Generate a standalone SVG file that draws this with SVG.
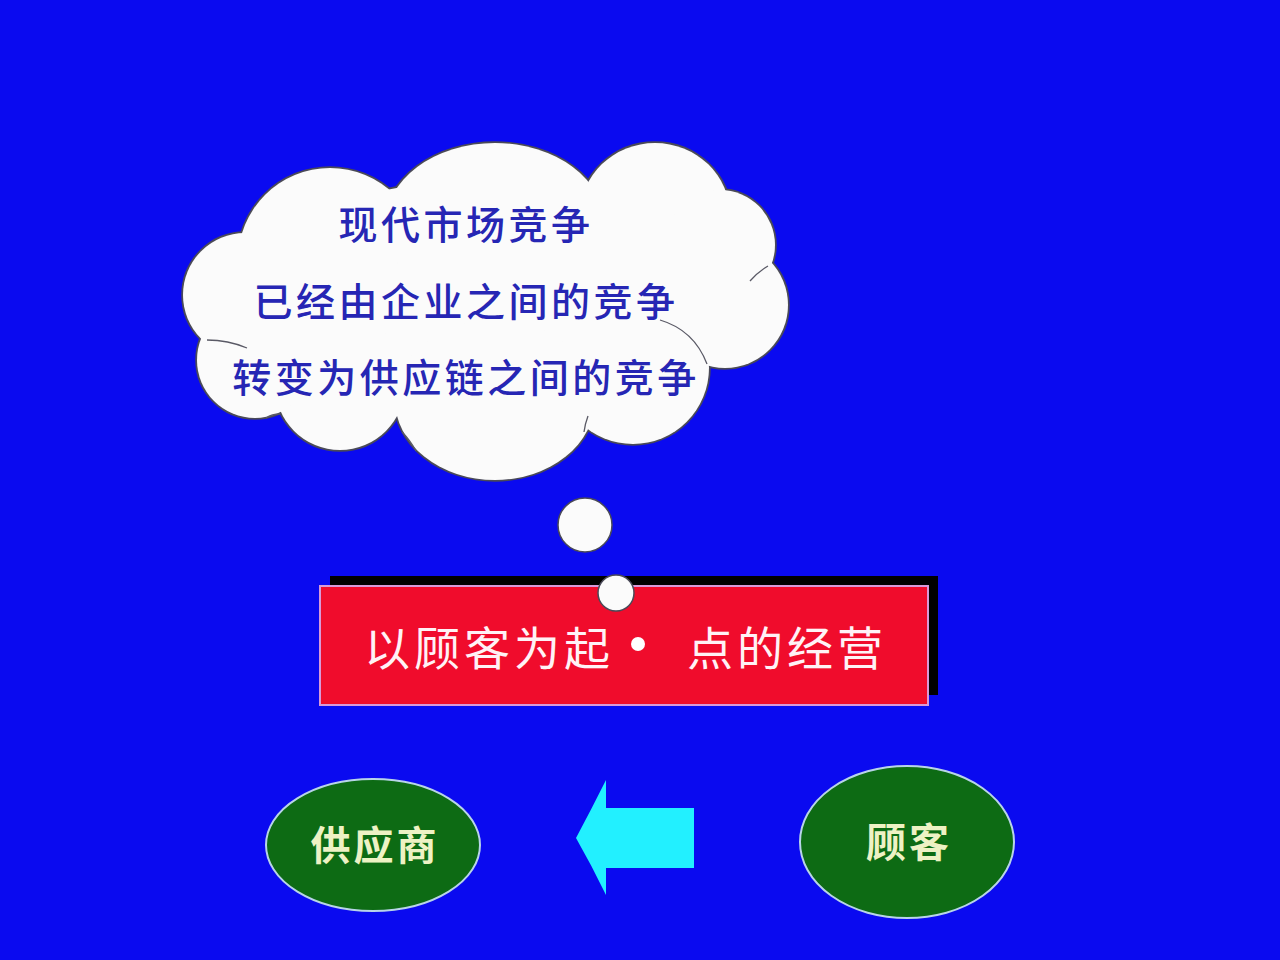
<svg xmlns="http://www.w3.org/2000/svg" xmlns:xlink="http://www.w3.org/1999/xlink" width="1280" height="960" viewBox="0 0 1280 960">
  <defs>
    <style>
      .cloudtext { font-family: "Noto Sans CJK SC", "Noto Sans", sans-serif; font-size: 39px; font-weight: 500; fill: #2626b4; letter-spacing: 3.5px; text-anchor: middle; }
      .bannertext { font-family: "Noto Sans CJK SC", "Noto Sans", sans-serif; font-size: 46px; font-weight: 400; fill: #fff2f6; letter-spacing: 4px; }
      .nodetext { font-family: "Noto Sans CJK SC", "Noto Sans", sans-serif; font-size: 40px; font-weight: 700; fill: #eef2c4; letter-spacing: 3px; text-anchor: middle; }
      .bubble { fill: #fbfbfb; stroke: #4a4a58; stroke-width: 1.5; }
      .inner { fill: none; stroke: #5a5a66; stroke-width: 1.3; }
      .node { fill: #0d6b14; stroke: #b8d4e8; stroke-width: 2; }
    </style>
    <g id="puffs">
      <ellipse cx="480" cy="300" rx="235" ry="120"/>
      <circle cx="330" cy="260" r="92"/>
      <ellipse cx="495" cy="225" rx="110" ry="82"/>
      <ellipse cx="655" cy="215" rx="75" ry="72"/>
      <circle cx="720" cy="245" r="55"/>
      <circle cx="725" cy="305" r="63"/>
      <circle cx="633" cy="368" r="76"/>
      <ellipse cx="495" cy="400" rx="100" ry="80"/>
      <circle cx="340" cy="385" r="65"/>
      <circle cx="255" cy="360" r="58"/>
      <circle cx="245" cy="295" r="62"/>
    </g>
  </defs>

  <rect x="0" y="0" width="1280" height="960" fill="#0a0af0"/>

  <g id="cloud">
    <use xlink:href="#puffs" fill="#4a4a58" stroke="#4a4a58" stroke-width="3.5"/>
    <use xlink:href="#puffs" fill="#fbfbfb" stroke="none"/>
    <path class="inner" d="M207,340 Q228,340 247,348"/>
    <path class="inner" d="M266,418 Q272,414 280,414"/>
    <path class="inner" d="M402,432 Q410,440 416,451"/>
    <path class="inner" d="M750,281 Q758,272 768,266"/>
    <path class="inner" d="M660,320 Q694,330 707,364"/>
    <path class="inner" d="M588,416 Q585,424 584,432"/>
    <text class="cloudtext" x="466" y="239">现代市场竞争</text>
    <text class="cloudtext" x="466" y="316">已经由企业之间的竞争</text>
    <text class="cloudtext" x="466" y="392">转变为供应链之间的竞争</text>
  </g>

  <g id="thought-bubble-large">
    <circle class="bubble" cx="585" cy="525" r="27"/>
  </g>

  <g id="banner">
    <rect x="330" y="576" width="608" height="119" fill="#000000"/>
    <rect x="320" y="586" width="608" height="119" fill="#f00c2c" stroke="#d89ad8" stroke-width="2"/>
    <text class="bannertext" x="364" y="665">以顾客为起</text>
    <circle cx="638" cy="644" r="7" fill="#ffffff"/>
    <text class="bannertext" x="687" y="665">点的经营</text>
  </g>

  <g id="thought-bubble-small">
    <circle class="bubble" cx="616" cy="593" r="18"/>
  </g>

  <g id="supplier">
    <ellipse class="node" cx="373" cy="845" rx="107" ry="66"/>
    <text class="nodetext" x="375" y="860">供应商</text>
  </g>

  <g id="customer">
    <ellipse class="node" cx="907" cy="842" rx="107" ry="76"/>
    <text class="nodetext" x="909" y="857">顾客</text>
  </g>

  <g id="connectors">
    <path d="M576,838 Q592,808 606,780 L606,808 L694,808 L694,868 L606,868 L606,895 Q592,866 576,838 Z" fill="#22f0ff"/>
  </g>
</svg>
